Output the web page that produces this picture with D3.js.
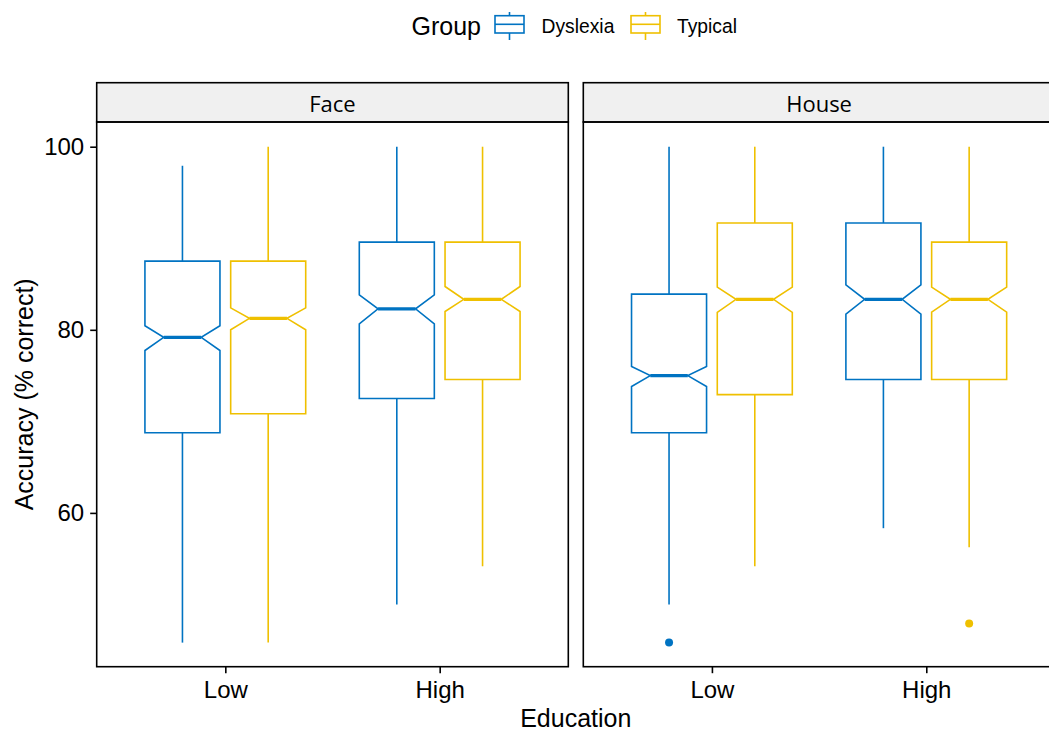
<!DOCTYPE html>
<html>
<head>
<meta charset="utf-8">
<script src="https://cdn.jsdelivr.net/npm/d3@7"></script>
<style>
  html, body { margin: 0; padding: 0; background: #fff; }
  svg { display: block; }
  text { font-family: "Liberation Sans", Arial, sans-serif; fill: #000; }
  .strip-label { font-family: "Open Sans", "Liberation Sans", sans-serif; }
</style>
</head>
<body>
<svg id="chart" width="1049" height="731"></svg>
<script>
// Facets, x categories and fill groups
const facets = ["Face", "House"];
const education = ["Low", "High"];
const groups = ["Dyslexia", "Typical"];
const groupColors = ["#0073C2", "#EFC000"];

// Box statistics, in order Face-Low-Dys, Face-Low-Typ, Face-High-Dys, Face-High-Typ,
// House-Low-Dys, House-Low-Typ, House-High-Dys, House-High-Typ
const boxFacet     = ["Face", "Face", "Face", "Face", "House", "House", "House", "House"];
const boxEducation = ["Low", "Low", "High", "High", "Low", "Low", "High", "High"];
const boxGroup     = ["Dyslexia", "Typical", "Dyslexia", "Typical", "Dyslexia", "Typical", "Dyslexia", "Typical"];
const whiskerLow   = [45.83, 45.83, 50.00, 54.17, 50.00, 54.17, 58.33, 56.25];
const q1           = [68.75, 70.83, 72.50, 74.58, 68.75, 72.92, 74.58, 74.58];
const notchLow     = [77.74, 80.00, 80.65, 82.00, 73.80, 81.90, 81.72, 81.94];
const median       = [79.17, 81.25, 82.29, 83.33, 75.00, 83.33, 83.33, 83.33];
const notchHigh    = [80.44, 82.40, 83.82, 84.73, 76.00, 84.67, 84.92, 84.67];
const q3           = [87.50, 87.50, 89.58, 89.58, 83.90, 91.67, 91.67, 89.58];
const whiskerHigh  = [97.92, 100.0, 100.0, 100.0, 100.0, 100.0, 100.0, 100.0];

// Outlying observations
const outlierFacet     = ["House", "House"];
const outlierEducation = ["Low", "High"];
const outlierGroup     = ["Dyslexia", "Typical"];
const outlierValue     = [45.83, 47.92];

const yTicks = [60, 80, 100];

// Layout
const svg = d3.select("#chart");
const panelTop = 122, panelBottom = 666.7;
const stripTop = 82.7;
const panelWidth = 471.6;
const panelLefts = [96.7, 583.3];
const lw = 1.6;

const color = d3.scaleOrdinal().domain(groups).range(groupColors);
const y = d3.scaleLinear().domain([43.2, 102.7]).range([panelBottom, panelTop]);

facets.forEach((facet, fi) => {
  const left = panelLefts[fi];
  const x = d3.scalePoint().domain(education).range([left, left + panelWidth]).padding(0.6);
  const step = x.step();
  const dodge = d3.scalePoint().domain(groups).range([-0.2 * step, 0.2 * step]);
  const boxW = 0.35 * step;

  const g = svg.append("g");

  // strip
  g.append("rect")
    .attr("x", left).attr("y", stripTop)
    .attr("width", panelWidth).attr("height", panelTop - stripTop)
    .attr("fill", "#F0F0F0").attr("stroke", "#000").attr("stroke-width", lw);
  g.append("text")
    .attr("class", "strip-label")
    .attr("x", left + panelWidth / 2).attr("y", (stripTop + panelTop) / 2 + 1)
    .attr("text-anchor", "middle").attr("dominant-baseline", "central")
    .attr("font-size", 22)
    .text(facet);

  // boxes
  d3.range(boxFacet.length).filter(i => boxFacet[i] === facet).forEach(i => {
    const cx = x(boxEducation[i]) + dodge(boxGroup[i]);
    const c = color(boxGroup[i]);
    const x0 = cx - boxW / 2, x1 = cx + boxW / 2;
    const nx0 = cx - boxW / 4, nx1 = cx + boxW / 4;

    g.append("line")
      .attr("x1", cx).attr("x2", cx)
      .attr("y1", y(q3[i])).attr("y2", y(whiskerHigh[i]))
      .attr("stroke", c).attr("stroke-width", lw);
    g.append("line")
      .attr("x1", cx).attr("x2", cx)
      .attr("y1", y(q1[i])).attr("y2", y(whiskerLow[i]))
      .attr("stroke", c).attr("stroke-width", lw);

    const p = d3.path();
    p.moveTo(x0, y(q3[i]));
    p.lineTo(x1, y(q3[i]));
    p.lineTo(x1, y(notchHigh[i]));
    p.lineTo(nx1, y(median[i]));
    p.lineTo(x1, y(notchLow[i]));
    p.lineTo(x1, y(q1[i]));
    p.lineTo(x0, y(q1[i]));
    p.lineTo(x0, y(notchLow[i]));
    p.lineTo(nx0, y(median[i]));
    p.lineTo(x0, y(notchHigh[i]));
    p.closePath();
    g.append("path")
      .attr("d", p.toString())
      .attr("fill", "#fff").attr("stroke", c).attr("stroke-width", lw)
      .attr("stroke-linejoin", "miter");

    g.append("line")
      .attr("x1", nx0).attr("x2", nx1)
      .attr("y1", y(median[i])).attr("y2", y(median[i]))
      .attr("stroke", c).attr("stroke-width", 3.3);
  });

  // outliers
  d3.range(outlierFacet.length).filter(i => outlierFacet[i] === facet).forEach(i => {
    g.append("circle")
      .attr("cx", x(outlierEducation[i]) + dodge(outlierGroup[i]))
      .attr("cy", y(outlierValue[i]))
      .attr("r", 4)
      .attr("fill", color(outlierGroup[i]));
  });

  // panel border
  g.append("rect")
    .attr("x", left).attr("y", panelTop)
    .attr("width", panelWidth).attr("height", panelBottom - panelTop)
    .attr("fill", "none").attr("stroke", "#000").attr("stroke-width", lw);

  // x axis
  const xAxis = d3.axisBottom(x).tickSize(6.5).tickPadding(8);
  const xa = g.append("g")
    .attr("transform", `translate(0,${panelBottom})`)
    .call(xAxis);
  xa.select(".domain").remove();
  xa.selectAll(".tick line").attr("stroke", "#000").attr("stroke-width", lw);
  xa.selectAll(".tick text")
    .attr("font-family", "'Liberation Sans', Arial, sans-serif")
    .attr("font-size", 24).attr("fill", "#000");

  // y axis on first panel only
  if (fi === 0) {
    const yAxis = d3.axisLeft(y).tickValues(yTicks).tickSize(6.5).tickPadding(6);
    const ya = g.append("g")
      .attr("transform", `translate(${left},0)`)
      .call(yAxis);
    ya.select(".domain").remove();
    ya.selectAll(".tick line").attr("stroke", "#000").attr("stroke-width", lw);
    ya.selectAll(".tick text")
      .attr("font-family", "'Liberation Sans', Arial, sans-serif")
      .attr("font-size", 24).attr("fill", "#000");
  }
});

// axis titles
svg.append("text")
  .attr("x", (panelLefts[0] + panelLefts[1] + panelWidth) / 2)
  .attr("y", 727)
  .attr("text-anchor", "middle")
  .attr("font-size", 25)
  .text("Education");

svg.append("text")
  .attr("transform", `translate(33,${(panelTop + panelBottom) / 2}) rotate(-90)`)
  .attr("text-anchor", "middle")
  .attr("font-size", 25)
  .text("Accuracy (% correct)");

// legend
const legend = svg.append("g");
legend.append("text")
  .attr("x", 411.5).attr("y", 35)
  .attr("font-size", 25)
  .text("Group");

const keyX = [495, 631];
const labelX = [541.5, 677];
groups.forEach((grp, gi) => {
  const c = color(grp);
  const kx = keyX[gi], kw = 29;
  legend.append("line")
    .attr("x1", kx + kw / 2).attr("x2", kx + kw / 2)
    .attr("y1", 12).attr("y2", 40)
    .attr("stroke", c).attr("stroke-width", lw);
  legend.append("rect")
    .attr("x", kx).attr("y", 15.7).attr("width", kw).attr("height", 17.3)
    .attr("fill", "#fff").attr("stroke", c).attr("stroke-width", lw);
  legend.append("line")
    .attr("x1", kx).attr("x2", kx + kw)
    .attr("y1", 24.3).attr("y2", 24.3)
    .attr("stroke", c).attr("stroke-width", lw);
  legend.append("text")
    .attr("x", labelX[gi]).attr("y", 33.3)
    .attr("font-size", 19.3)
    .text(grp);
});
</script>
</body>
</html>
